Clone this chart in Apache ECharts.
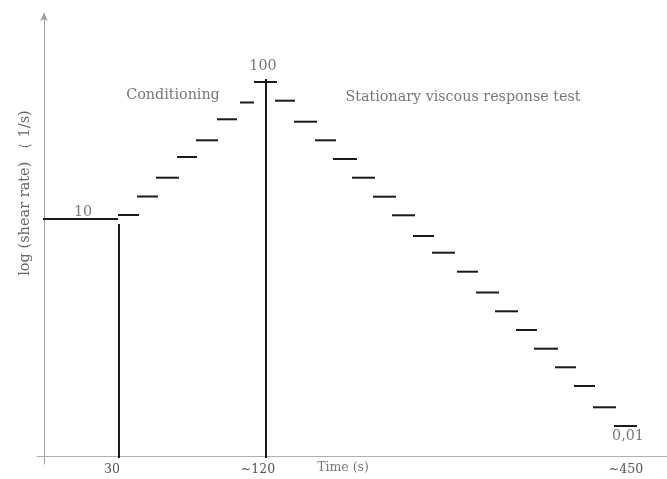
<!DOCTYPE html>
<html>
<head>
<meta charset="utf-8">
<script src="https://cdn.jsdelivr.net/npm/echarts@6/dist/echarts.min.js"></script>
<style>
html,body{margin:0;padding:0;background:#fff;}
#chart{width:667px;height:479px;}
</style>
</head>
<body>
<div id="chart"></div>
<script>
// Schematic units (x: time, y: log shear-rate level)
var baseline = [[-1, 74, 237]];                 // [xStart, xEnd, level]
var conditioningSteps = [
  [74, 95, 241], [93, 114, 259.5], [112, 135, 278.3], [133, 153, 299],
  [152, 174, 315.7], [173, 193, 336.7], [196, 210, 353.5], [210, 233, 374]
];
var stationarySteps = [
  [231, 251, 355.3], [250, 273, 334.3], [271, 292, 315.7], [289, 313, 297],
  [308, 331, 278.3], [329, 352, 259.3], [348, 371, 240.7], [369, 390, 220],
  [388, 411, 203.3], [413, 434, 184.3], [432, 455, 163.5], [451, 474, 144.7],
  [472, 493, 126], [490, 514, 107.3], [511, 532, 88.7], [530, 551, 70],
  [549, 572, 48.7], [570, 593, 30]
];
var verticalMarkers = [[75, -2, 232], [222, -2, 377]];   // [x, yFrom, yTo]
var xTickValues = [68, 214, 582];
var xTickLabels = ['30', '~120', '~450'];
var annotations = [
  {name: '10', value: [39, 244]},
  {name: '100', value: [219, 390]},
  {name: '0,01', value: [584, 20]},
  {name: 'Conditioning', value: [129, 361]},
  {name: 'Stationary viscous response test', value: [419, 359]}
];
var xAxisTitle = {name: 'Time (s)', value: [299, -12]};
var yAxisTitle = 'log (shear rate) （ 1/s)';

var FONT = 'DejaVu Serif';
var segData = baseline.concat(conditioningSteps, stationarySteps);

var chart = echarts.init(document.getElementById('chart'));
chart.setOption({
  animation: false,
  backgroundColor: '#ffffff',
  grid: {left: 37, right: 0, top: 13, bottom: 15, containLabel: false, outerBoundsMode: 'none'},
  xAxis: {
    type: 'value', min: -7, max: 623,
    splitLine: {show: false},
    axisLine: {onZero: true, lineStyle: {color: '#b0b0b0', width: 1}},
    axisTick: {show: false},
    axisLabel: {
      customValues: xTickValues,
      margin: -1,
      color: '#555',
      fontFamily: FONT,
      fontSize: 12.5,
      formatter: function (v) {
        var i = xTickValues.indexOf(v);
        return i >= 0 ? xTickLabels[i] : '';
      }
    }
  },
  yAxis: {
    type: 'value', min: -8, max: 443,
    splitLine: {show: false},
    axisLine: {onZero: true, symbol: ['none', 'arrow'], symbolSize: [6, 8], symbolOffset: [0, 0],
      lineStyle: {color: '#a0a0a0', width: 1}},
    axisTick: {show: false},
    axisLabel: {show: false}
  },
  graphic: [{
    type: 'text', x: 25, y: 193, rotation: Math.PI / 2,
    style: {text: yAxisTitle, fill: '#666', font: '14.5px "DejaVu Serif"', align: 'center', verticalAlign: 'middle'}
  }],
  series: [
    {
      type: 'custom',
      data: segData,
      encode: {x: [0, 1], y: 2},
      renderItem: function (params, api) {
        var p0 = api.coord([api.value(0), api.value(2)]);
        var p1 = api.coord([api.value(1), api.value(2)]);
        return {type: 'line', shape: {x1: p0[0], y1: p0[1], x2: p1[0], y2: p1[1]},
          style: {stroke: '#1a1a1a', lineWidth: 2}};
      }
    },
    {
      type: 'custom',
      data: verticalMarkers,
      encode: {x: 0, y: [1, 2]},
      renderItem: function (params, api) {
        var p0 = api.coord([api.value(0), api.value(1)]);
        var p1 = api.coord([api.value(0), api.value(2)]);
        return {type: 'line', shape: {x1: p0[0], y1: p0[1], x2: p1[0], y2: p1[1]},
          style: {stroke: '#1a1a1a', lineWidth: 2}};
      }
    },
    {
      type: 'scatter',
      symbolSize: 0,
      clip: false,
      data: annotations,
      label: {show: true, position: 'inside', formatter: '{b}', color: '#555',
        fontFamily: FONT, fontSize: 14.3}
    },
    {
      type: 'scatter',
      symbolSize: 0,
      clip: false,
      data: [xAxisTitle],
      label: {show: true, position: 'inside', formatter: '{b}', color: '#555',
        fontFamily: FONT, fontSize: 12.5}
    }
  ]
});
</script>
</body>
</html>
